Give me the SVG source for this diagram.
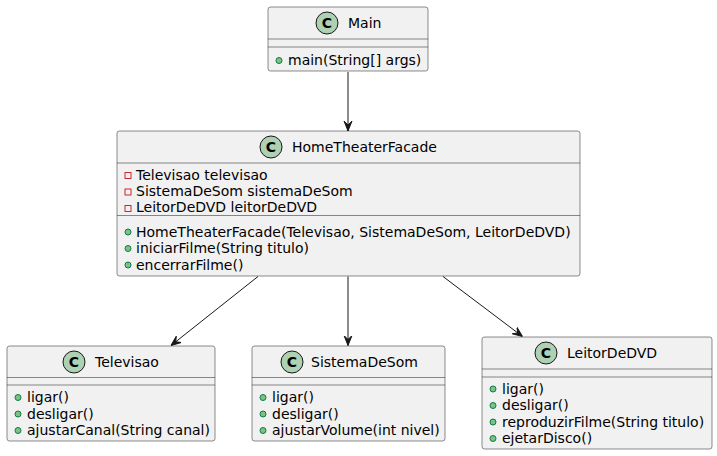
<svg xmlns="http://www.w3.org/2000/svg" width="717" height="456" viewBox="0 0 717 456">
<style>
.box{fill:#F1F1F1;stroke:#181818;stroke-width:0.5}
.sep{stroke:#181818;stroke-width:0.5}
.ci{fill:#ADD1B2;stroke:#181818;stroke-width:1}
.cl{font-family:"DejaVu Sans",sans-serif;font-size:14px;font-weight:bold;fill:#000}
.t{font-family:"DejaVu Sans",sans-serif;font-size:14px;fill:#000}
.pub{fill:#84BE84;stroke:#038048;stroke-width:1}
.pri{fill:none;stroke:#C82930;stroke-width:1}
.ln{stroke:#181818;stroke-width:1;fill:none}
.ah{fill:#181818;stroke:#181818;stroke-width:1}
</style>
<defs>
<marker id="arr" viewBox="0 0 10 10" refX="10" refY="5" markerWidth="10" markerHeight="10" markerUnits="userSpaceOnUse" orient="auto">
<path d="M10,5 L0,1 L4,5 L0,9 Z" class="ah"/>
</marker>
</defs>
<g id="connectors">
<line class="ln" x1="348" y1="72" x2="348" y2="131" marker-end="url(#arr)"/>
<line class="ln" x1="258" y1="276.5" x2="171" y2="345.5" marker-end="url(#arr)"/>
<line class="ln" x1="348" y1="276.5" x2="348" y2="345.5" marker-end="url(#arr)"/>
<line class="ln" x1="443" y1="276.5" x2="522.5" y2="336.5" marker-end="url(#arr)"/>
</g>
<g id="Main">
<rect class="box" x="268" y="7" width="160" height="64" rx="2.5"/>
<circle class="ci" cx="327" cy="23" r="11"/>
<text class="cl" x="327" y="28" text-anchor="middle">C</text>
<text class="t" x="348" y="28">Main</text>
<line class="sep" x1="268" y1="39" x2="428" y2="39"/>
<line class="sep" x1="268" y1="47" x2="428" y2="47"/>
<circle class="pub" cx="279" cy="60.5" r="3"/>
<text class="t" x="288" y="65">main(String[] args)</text>
</g>
<g id="HomeTheaterFacade">
<rect class="box" x="117" y="131" width="463" height="145" rx="2.5"/>
<circle class="ci" cx="271" cy="147" r="11"/>
<text class="cl" x="271" y="152" text-anchor="middle">C</text>
<text class="t" x="292" y="152">HomeTheaterFacade</text>
<line class="sep" x1="117" y1="163" x2="580" y2="163"/>
<rect class="pri" x="125" y="172.5" width="6" height="6"/>
<text class="t" x="136" y="180">Televisao televisao</text>
<rect class="pri" x="125" y="189" width="6" height="6"/>
<text class="t" x="136" y="196">SistemaDeSom sistemaDeSom</text>
<rect class="pri" x="125" y="205.5" width="6" height="6"/>
<text class="t" x="136" y="212">LeitorDeDVD leitorDeDVD</text>
<line class="sep" x1="117" y1="215.5" x2="580" y2="215.5"/>
<circle class="pub" cx="128" cy="232" r="3"/>
<text class="t" x="136" y="236.5">HomeTheaterFacade(Televisao, SistemaDeSom, LeitorDeDVD)</text>
<circle class="pub" cx="128" cy="248.5" r="3"/>
<text class="t" x="136" y="253">iniciarFilme(String titulo)</text>
<circle class="pub" cx="128" cy="265" r="3"/>
<text class="t" x="136" y="269.5">encerrarFilme()</text>
</g>
<g id="Televisao">
<rect class="box" x="7" y="346" width="208" height="95" rx="2.5"/>
<circle class="ci" cx="74" cy="362" r="11"/>
<text class="cl" x="74" y="367" text-anchor="middle">C</text>
<text class="t" x="95" y="367">Televisao</text>
<line class="sep" x1="7" y1="377.5" x2="215" y2="377.5"/>
<line class="sep" x1="7" y1="385" x2="215" y2="385"/>
<circle class="pub" cx="18" cy="397.5" r="3"/>
<text class="t" x="27" y="402">ligar()</text>
<circle class="pub" cx="18" cy="414" r="3"/>
<text class="t" x="27" y="418.5">desligar()</text>
<circle class="pub" cx="18" cy="430.5" r="3"/>
<text class="t" x="27" y="435">ajustarCanal(String canal)</text>
</g>
<g id="SistemaDeSom">
<rect class="box" x="252" y="346" width="193" height="95" rx="2.5"/>
<circle class="ci" cx="292" cy="362" r="11"/>
<text class="cl" x="292" y="367" text-anchor="middle">C</text>
<text class="t" x="311" y="367">SistemaDeSom</text>
<line class="sep" x1="252" y1="377.5" x2="445" y2="377.5"/>
<line class="sep" x1="252" y1="385" x2="445" y2="385"/>
<circle class="pub" cx="263" cy="397.5" r="3"/>
<text class="t" x="272" y="402">ligar()</text>
<circle class="pub" cx="263" cy="414" r="3"/>
<text class="t" x="272" y="418.5">desligar()</text>
<circle class="pub" cx="263" cy="430.5" r="3"/>
<text class="t" x="272" y="435">ajustarVolume(int nivel)</text>
</g>
<g id="LeitorDeDVD">
<rect class="box" x="482" y="337" width="230" height="112" rx="2.5"/>
<circle class="ci" cx="546" cy="353" r="11"/>
<text class="cl" x="546" y="358" text-anchor="middle">C</text>
<text class="t" x="567" y="358">LeitorDeDVD</text>
<line class="sep" x1="482" y1="369" x2="712" y2="369"/>
<line class="sep" x1="482" y1="377" x2="712" y2="377"/>
<circle class="pub" cx="493" cy="389" r="3"/>
<text class="t" x="502" y="393.5">ligar()</text>
<circle class="pub" cx="493" cy="405.5" r="3"/>
<text class="t" x="502" y="410">desligar()</text>
<circle class="pub" cx="493" cy="422" r="3"/>
<text class="t" x="502" y="426.5">reproduzirFilme(String titulo)</text>
<circle class="pub" cx="493" cy="438.5" r="3"/>
<text class="t" x="502" y="443">ejetarDisco()</text>
</g>
</svg>
